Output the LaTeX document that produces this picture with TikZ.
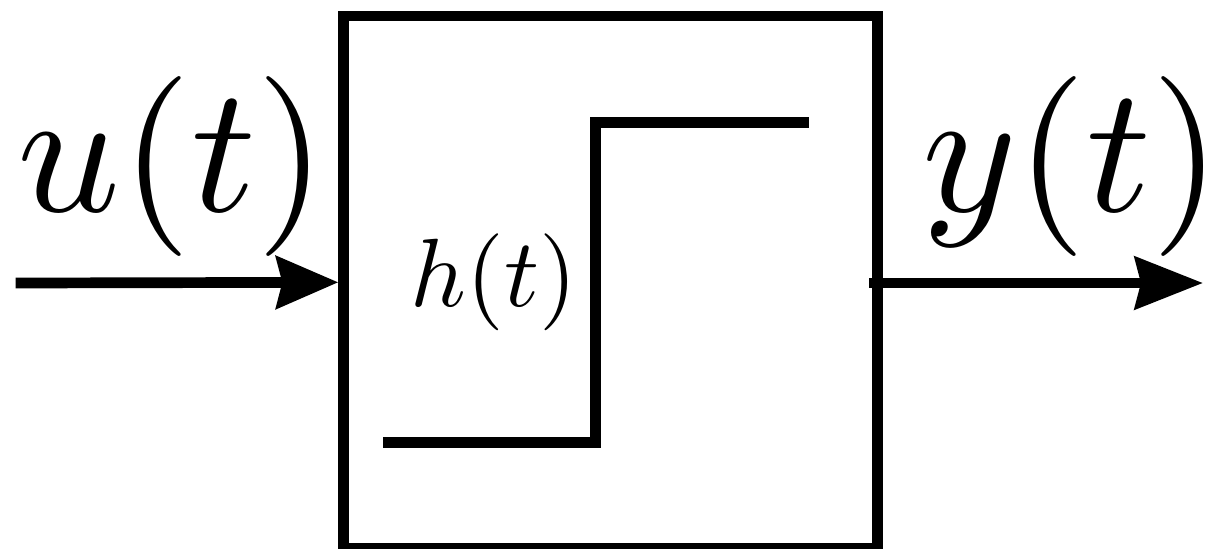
\documentclass[tikz,border=0pt]{standalone}
\DeclareFontShape{OML}{cmm}{m}{it}{<->cmmi10}{}
\DeclareFontShape{OT1}{cmr}{m}{n}{<->cmr10}{}
\DeclareFontShape{OMS}{cmsy}{m}{n}{<->cmsy10}{}
\DeclareFontShape{OMX}{cmex}{m}{n}{<->cmex10}{}
\usetikzlibrary{arrows.meta}
\tikzset{
  thick line/.style={line width=5.35pt, line cap=butt, line join=miter},
  sigarrow/.style={thick line, -{Stealth[length=#1, width=26pt, inset=3pt]}},
  biglabel/.style={inner sep=0pt, anchor=base, font=\fontsize{90}{100}\selectfont},
  smalllabel/.style={inner sep=0pt, anchor=base, font=\fontsize{48.5}{55}\selectfont},
}
\begin{document}
\begin{tikzpicture}[x=0.5pt, y=-0.5pt]
  \useasboundingbox (0,0) rectangle (1220,548);
  % system block
  \node[draw, thick line, rectangle, inner sep=0pt,
        minimum width=266.9pt, minimum height=266.3pt] (box) at (610.6,282.3) {};
  % free ends
  \coordinate (in) at (15.7,283);
  \coordinate (outstart) at (869.3,283);
  \coordinate (out) at (1203,283);
  % connectors
  \draw[sigarrow=31pt] (in) -- (box.west);
  \draw[sigarrow=34pt] (outstart) -- (out);
  % step response
  \draw[thick line] (383,442.5) -- (595.8,442.5) -- (595.8,122.5) -- (809,122.5);
  % labels
  \node[biglabel] (ulabel) at (172,211) {$u(t)$};
  \node[biglabel] (ylabel) at (1072,211) {$y(t)$};
  \node[smalllabel] (hlabel) at (494,306) {$h(t)$};
\end{tikzpicture}
\end{document}
